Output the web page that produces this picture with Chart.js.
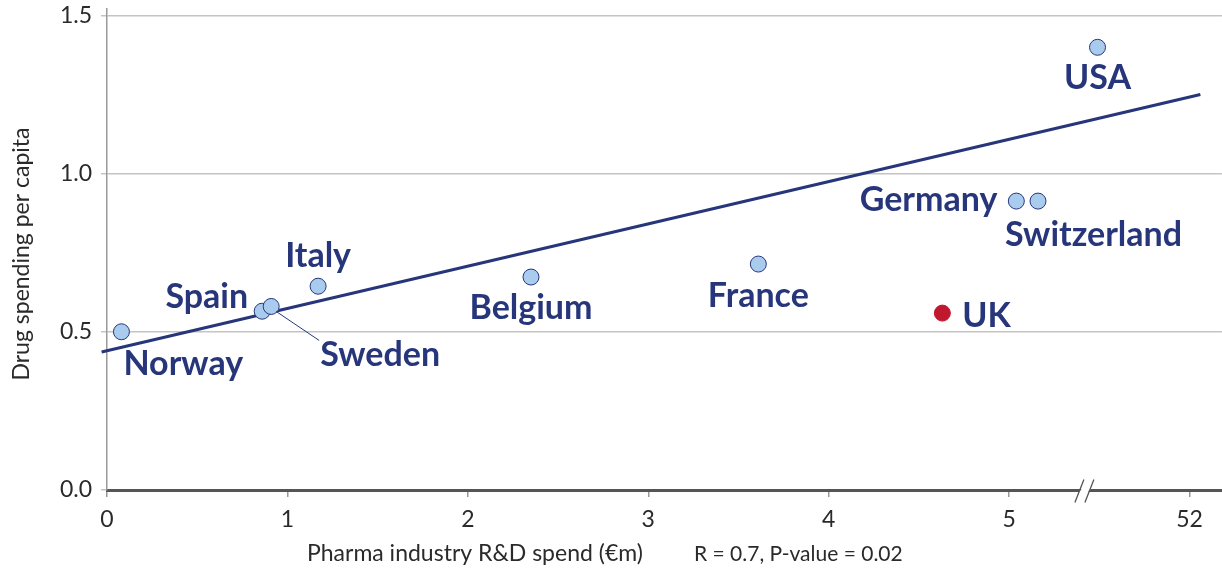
<!DOCTYPE html>
<html>
<head>
<meta charset="utf-8">
<script src="https://cdn.jsdelivr.net/npm/chart.js@4/dist/chart.umd.min.js"></script>
<style>
  html, body { margin: 0; padding: 0; background: #fff; }
  #wrap { width: 1222px; height: 573px; position: relative; }
</style>
</head>
<body>
<div id="wrap"><canvas id="c" width="1222" height="573"></canvas></div>
<script>
// ---- data ----
const countries = ['Norway', 'Spain', 'Sweden', 'Italy', 'Belgium', 'France', 'UK', 'Germany', 'Switzerland', 'USA'];
const rdSpend   = [0.08, 0.86, 0.91, 1.17, 2.35, 3.61, 4.63, 5.04, 5.16, 5.49];
const drugSpend = [0.50, 0.565, 0.58, 0.644, 0.673, 0.714, 0.559, 0.913, 0.913, 1.399];
const trendX = [-0.03, 6.06];
const trendY = [0.436, 1.25];
const xTickLabels = { 0: '0', 1: '1', 2: '2', 3: '3', 4: '4', 5: '5', 6: '52' };
const yTickValues = [0, 0.5, 1.0, 1.5];
const xTitle = 'Pharma industry R&D spend (€m)';
const statText = 'R = 0.7, P-value = 0.02';
const yTitle = 'Drug spending per capita';

// ---- label placement (styling, pixel offsets from the point) ----
const labelStyle = {
  Norway:      { align: 'left',   dx: 2,   dy: 32 },
  Spain:       { align: 'right',  dx: -14, dy: -14 },
  Sweden:      { align: 'left',   dx: 49,  dy: 49, leader: true },
  Italy:       { align: 'center', dx: 0,   dy: -30 },
  Belgium:     { align: 'center', dx: 0,   dy: 31 },
  France:      { align: 'center', dx: 0,   dy: 32 },
  UK:          { align: 'left',   dx: 20,  dy: 3 },
  Germany:     { align: 'right',  dx: -19, dy: -1 },
  Switzerland: { align: 'left',   dx: -33, dy: 34 },
  USA:         { align: 'center', dx: 0,   dy: 31 }
};

const NAVY = '#27367a';
const BLUE = '#a9cbee';
const RED = '#c0182f';
const TXT = '#2a2a2a';
const GRID = '#c4c4c4';
const AXIS = '#555555';
const LABEL_FONT = 'bold 34px Lato, "Open Sans", sans-serif';

function alignPx(p, w) { const h = w / 2; return Math.round(p - h) + h; }

// extend gridlines and x axis line to the right edge of the canvas
const extendPlugin = {
  id: 'extend',
  beforeDatasetsDraw(chart) {
    const ctx = chart.ctx;
    const ys = chart.scales.y;
    const a = chart.chartArea;
    ctx.save();
    ctx.strokeStyle = GRID;
    ctx.lineWidth = 1.5;
    yTickValues.filter(v => v > 0).forEach(v => {
      const y = alignPx(ys.getPixelForValue(v), 1.5);
      ctx.beginPath();
      ctx.moveTo(a.right, y);
      ctx.lineTo(chart.width, y);
      ctx.stroke();
    });
    ctx.restore();
  },
  afterDraw(chart) {
    const ctx = chart.ctx;
    const a = chart.chartArea;
    ctx.save();
    ctx.strokeStyle = AXIS;
    ctx.lineWidth = 3;
    const y = alignPx(chart.scales.x.top, 3);
    ctx.beginPath();
    ctx.moveTo(a.right, y);
    ctx.lineTo(chart.width, y);
    ctx.stroke();
    ctx.restore();
  }
};

const labelPlugin = {
  id: 'labels',
  afterDatasetsDraw(chart) {
    const ctx = chart.ctx;
    const xs = chart.scales.x, ys = chart.scales.y;
    ctx.save();
    ctx.font = LABEL_FONT;
    ctx.fillStyle = NAVY;
    ctx.textBaseline = 'middle';
    countries.forEach((name, i) => {
      const px = xs.getPixelForValue(rdSpend[i]);
      const py = ys.getPixelForValue(drugSpend[i]);
      const s = labelStyle[name];
      if (s.leader) {
        ctx.save();
        ctx.strokeStyle = NAVY;
        ctx.lineWidth = 1;
        ctx.beginPath();
        ctx.moveTo(px + 5, py + 5);
        ctx.lineTo(px + 48, py + 34);
        ctx.stroke();
        ctx.restore();
      }
      ctx.textAlign = s.align;
      ctx.fillText(name, px + s.dx, py + s.dy);
    });
    ctx.restore();
  }
};

const decorPlugin = {
  id: 'decor',
  afterDraw(chart) {
    const ctx = chart.ctx;
    const xs = chart.scales.x;
    ctx.save();
    // axis break on the x axis
    const bx = xs.getPixelForValue(5.42);
    const by = alignPx(xs.top, 3);
    ctx.fillStyle = '#ffffff';
    ctx.beginPath();
    ctx.moveTo(bx - 8, by + 4);
    ctx.lineTo(bx + 1, by + 4);
    ctx.lineTo(bx + 8, by - 4);
    ctx.lineTo(bx - 1, by - 4);
    ctx.closePath();
    ctx.fill();
    ctx.strokeStyle = AXIS;
    ctx.lineWidth = 1.3;
    [-5, 5].forEach(o => {
      ctx.beginPath();
      ctx.moveTo(bx + o - 5, by + 12);
      ctx.lineTo(bx + o + 4, by - 11);
      ctx.stroke();
    });
    // axis titles
    ctx.fillStyle = TXT;
    ctx.textBaseline = 'middle';
    ctx.textAlign = 'left';
    ctx.font = '23px Lato, "Open Sans", sans-serif';
    ctx.fillText(xTitle, 307, 554);
    ctx.font = '21px Lato, "Open Sans", sans-serif';
    ctx.fillText(statText, 694, 554);
    ctx.save();
    ctx.translate(22, 254);
    ctx.rotate(-Math.PI / 2);
    ctx.textAlign = 'center';
    ctx.font = '23px Lato, "Open Sans", sans-serif';
    ctx.fillText(yTitle, 0, 0);
    ctx.restore();
    ctx.restore();
  }
};

new Chart(document.getElementById('c'), {
  data: {
    datasets: [
      {
        type: 'scatter',
        label: 'Countries',
        data: countries.map((c, i) => ({ x: rdSpend[i], y: drugSpend[i] })),
        backgroundColor: ctx => countries[ctx.dataIndex] === 'UK' ? RED : BLUE,
        borderColor: ctx => countries[ctx.dataIndex] === 'UK' ? RED : NAVY,
        borderWidth: 1,
        pointRadius: 8,
        pointHoverRadius: 8,
        order: 1
      },
      {
        type: 'line',
        label: 'Trend',
        data: trendX.map((x, i) => ({ x, y: trendY[i] })),
        borderColor: NAVY,
        borderWidth: 3,
        pointRadius: 0,
        fill: false,
        clip: false,
        order: 2
      }
    ]
  },
  options: {
    responsive: false,
    animation: false,
    events: [],
    layout: { padding: { top: 9, right: 0, left: 0, bottom: 0 } },
    plugins: { legend: { display: false }, tooltip: { enabled: false } },
    scales: {
      x: {
        type: 'linear',
        min: 0,
        max: 6.13,
        afterFit: s => { s.height = 83; s.paddingLeft = 0; s.paddingRight = 0; },
        ticks: {
          stepSize: 1,
          includeBounds: false,
          autoSkip: false,
          maxRotation: 0,
          padding: 9,
          color: TXT,
          font: { family: 'Lato, "Open Sans", sans-serif', size: 23 },
          callback: v => xTickLabels[v] !== undefined ? xTickLabels[v] : ''
        },
        grid: { drawOnChartArea: false, drawTicks: true, tickLength: 7, color: '#999999', lineWidth: 1.5 },
        border: { color: AXIS, width: 3 }
      },
      y: {
        type: 'linear',
        min: 0,
        max: 1.52,
        afterFit: s => { s.width = 107; s.paddingTop = 0; s.paddingBottom = 0; },
        afterBuildTicks: s => { s.ticks = yTickValues.map(v => ({ value: v })); },
        ticks: {
          stepSize: 0.5,
          includeBounds: false,
          padding: 9,
          color: TXT,
          font: { family: 'Lato, "Open Sans", sans-serif', size: 23 },
          callback: v => v.toFixed(1)
        },
        grid: { color: GRID, lineWidth: 1.5, tickLength: 6, drawTicks: true },
        border: { color: '#999999', width: 1.5 }
      }
    }
  },
  plugins: [extendPlugin, labelPlugin, decorPlugin]
});
</script>
</body>
</html>
